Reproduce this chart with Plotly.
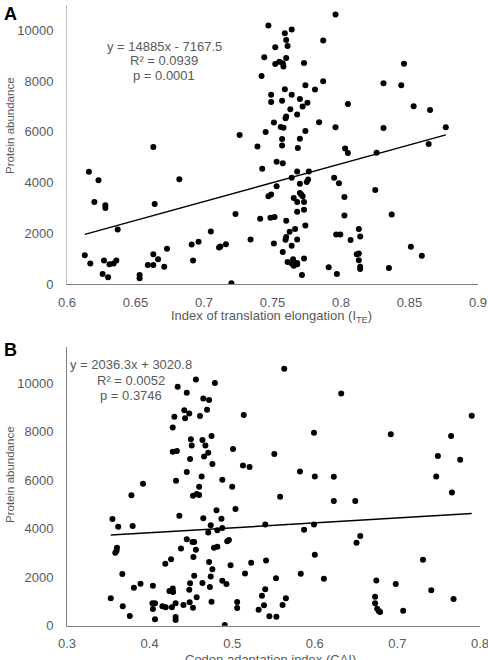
import plotly.graph_objects as go

# ---------------- Panel A data (I_TE vs protein abundance) ----------------
a_ite = [0.663, 0.726, 0.796, 0.747, 0.764, 0.759, 0.760, 0.787, 0.752, 0.761,
         0.744, 0.760, 0.755, 0.752, 0.7575, 0.758, 0.773, 0.846, 0.742, 0.831,
         0.844, 0.787, 0.774, 0.781, 0.759, 0.749, 0.764, 0.770, 0.749, 0.757,
         0.7755, 0.805, 0.763, 0.772, 0.853, 0.865, 0.768, 0.760, 0.7595, 0.751,
         0.784, 0.756, 0.758, 0.796, 0.831, 0.8765, 0.745, 0.774, 0.757, 0.770,
         0.739, 0.757, 0.7685, 0.864, 0.803, 0.805, 0.826, 0.616, 0.623, 0.620,
         0.628, 0.628, 0.664, 0.682, 0.637, 0.723, 0.613, 0.617, 0.627, 0.631,
         0.634, 0.636, 0.626, 0.630, 0.653, 0.653, 0.659, 0.663, 0.663, 0.6665,
         0.671, 0.673, 0.691, 0.696, 0.692, 0.705, 0.711, 0.712, 0.716, 0.720,
         0.734, 0.7425, 0.753, 0.7575, 0.768, 0.7765, 0.764, 0.776, 0.775, 0.770,
         0.753, 0.795, 0.7985, 0.747, 0.749, 0.770, 0.771, 0.772, 0.7655, 0.768,
         0.773, 0.8025, 0.825, 0.773, 0.768, 0.8025, 0.837, 0.741, 0.7485, 0.7515,
         0.760, 0.774, 0.7665, 0.7625, 0.813, 0.7965, 0.7995, 0.814, 0.760, 0.7595,
         0.768, 0.807, 0.751, 0.764, 0.851, 0.7575, 0.8115, 0.813, 0.859, 0.773,
         0.813, 0.761, 0.765, 0.764, 0.7655, 0.768, 0.768, 0.814, 0.814, 0.791,
         0.835, 0.7715, 0.797]
a_abund = [5400, 5870, 10625, 10190, 10030, 9890, 9620, 9600, 9330, 9385,
           8940, 8910, 8765, 8670, 8700, 8580, 8710, 8685, 8200, 7910,
           7840, 7990, 7840, 7670, 7680, 7460, 7460, 7290, 7180, 7220,
           7150, 7100, 6890, 7000, 7010, 6865, 6680, 6600, 6535, 6365,
           6375, 6190, 6165, 6180, 6150, 6180, 5990, 6030, 5715, 5730,
           5425, 5465, 5360, 5515, 5345, 5160, 5175, 4425, 4090, 3235,
           3100, 3000, 3155, 4130, 2150, 2760, 1135, 805, 925, 780,
           805, 925, 395, 265, 355, 225, 750, 750, 1175, 980,
           685, 1385, 1560, 1665, 925, 2070, 1440, 1480, 1570, 25,
           1750, 4540, 4820, 4765, 4435, 4435, 4185, 4120, 4025, 3950,
           3855, 4185, 3970, 3455, 3525, 3590, 3525, 3455, 3395, 3235,
           3235, 3435, 3710, 2930, 2850, 2705, 2745, 2575, 2615, 2640,
           2495, 2310, 2165, 2060, 2165, 1955, 1955, 1875, 1850, 1740,
           1755, 1730, 1600, 1505, 1465, 1265, 1175, 1200, 1110, 1005,
           940, 870, 980, 805, 715, 780, 830, 685, 595, 660,
           635, 355, 395]
a_slope, a_intercept = 14885, -7167.5
a_eq = ["y = 14885x - 7167.5", "R² = 0.0939", "p = 0.0001"]

# ---------------- Panel B data (CAI vs protein abundance) ----------------
b_cai = [0.456, 0.479, 0.434, 0.445, 0.465, 0.472, 0.442, 0.448, 0.4695, 0.430,
         0.443, 0.461, 0.514, 0.428, 0.450, 0.451, 0.464, 0.475, 0.4675, 0.501,
         0.428, 0.433, 0.449, 0.466, 0.471, 0.476, 0.513, 0.521, 0.445, 0.463,
         0.488, 0.392, 0.432, 0.460, 0.500, 0.378, 0.4525, 0.457, 0.460, 0.504,
         0.355, 0.436, 0.465, 0.481, 0.487, 0.362, 0.3795, 0.474, 0.471, 0.482,
         0.488, 0.445, 0.452, 0.454, 0.494, 0.496, 0.3605, 0.360, 0.3585, 0.438,
         0.456, 0.478, 0.482, 0.453, 0.426, 0.419, 0.472, 0.498, 0.476, 0.367,
         0.454, 0.474, 0.5155, 0.523, 0.488, 0.493, 0.389, 0.381, 0.404, 0.449,
         0.464, 0.473, 0.428, 0.424, 0.4285, 0.448, 0.353, 0.457, 0.3675, 0.4035,
         0.4065, 0.404, 0.4155, 0.4195, 0.427, 0.4315, 0.441, 0.4485, 0.4525, 0.475,
         0.506, 0.506, 0.376, 0.4065, 0.4315, 0.4315, 0.491, 0.563, 0.632, 0.790,
         0.599, 0.692, 0.765, 0.551, 0.749, 0.776, 0.582, 0.600, 0.623, 0.747,
         0.558, 0.623, 0.649, 0.766, 0.540, 0.599, 0.587, 0.655, 0.6505, 0.600,
         0.731, 0.541, 0.583, 0.553, 0.611, 0.6745, 0.698, 0.540, 0.741, 0.536,
         0.565, 0.673, 0.768, 0.673, 0.5385, 0.561, 0.532, 0.6755, 0.6775, 0.679,
         0.707, 0.545, 0.5535]
b_abund = [10160, 10010, 9855, 9610, 9380, 9310, 8895, 8760, 8910, 8620,
           8565, 8650, 8690, 8180, 7690, 7440, 7660, 7825, 7440, 7290,
           7175, 7205, 6875, 6985, 7135, 6670, 6615, 6545, 6340, 6160,
           6020, 5855, 5980, 5730, 5730, 5380, 5360, 5430, 5390, 4815,
           4400, 4535, 4430, 4760, 4415, 4085, 4110, 4140, 3850, 3935,
           4030, 3565, 3450, 3450, 3480, 3535, 3215, 3095, 3010, 3190,
           3135, 3215, 3260, 2835, 2740, 2555, 2625, 2490, 2325, 2130,
           2060, 2035, 2150, 2600, 1855, 1720, 1730, 1565, 1650, 1750,
           1760, 1595, 1540, 1430, 1390, 1485, 1130, 1170, 800, 925,
           925, 690, 800, 760, 760, 925, 855, 965, 740, 990,
           975, 730, 400, 265, 360, 235, 30, 10600, 9585, 8660,
           7960, 7895, 7825, 7080, 7000, 6845, 6365, 6160, 6145, 6160,
           5320, 5145, 5145, 5500, 4180, 4180, 3960, 3700, 3425, 2930,
           2720, 2695, 2145, 1955, 1940, 1870, 1720, 1500, 1460, 1235,
           1130, 1195, 1100, 925, 840, 855, 660, 700, 605, 565,
           620, 390, 370]
b_slope, b_intercept = 2036.3, 3020.8
b_eq = ["y = 2036.3x + 3020.8", "R² = 0.0052", "p = 0.3746"]

a_xticks = [0.6, 0.65, 0.7, 0.75, 0.8, 0.85, 0.9]
a_xticktext = ["0.6", "0.65", "0.7", "0.75", "0.8", "0.85", "0.9"]
b_xticks = [0.3, 0.4, 0.5, 0.6, 0.7, 0.8]
b_xticktext = ["0.3", "0.4", "0.5", "0.6", "0.7", "0.8"]
y_ticks = [0, 2000, 4000, 6000, 8000, 10000]

W, H = 488, 660
FONT = "Liberation Sans, Arial, sans-serif"
GRAY = "#595959"

def px(x):
    return x / W

def py(y):
    return 1 - y / H

fig = go.Figure()

fig.add_trace(go.Scatter(x=a_ite, y=a_abund, mode="markers", xaxis="x", yaxis="y",
                         marker=dict(size=6, color="black"), showlegend=False))
ax0, ax1 = min(a_ite), max(a_ite)
fig.add_trace(go.Scatter(x=[ax0, ax1], y=[a_slope * ax0 + a_intercept, a_slope * ax1 + a_intercept],
                         mode="lines", xaxis="x", yaxis="y",
                         line=dict(color="black", width=1.5), showlegend=False))

fig.add_trace(go.Scatter(x=b_cai, y=b_abund, mode="markers", xaxis="x2", yaxis="y2",
                         marker=dict(size=6, color="black"), showlegend=False))
bx0, bx1 = min(b_cai), max(b_cai)
fig.add_trace(go.Scatter(x=[bx0, bx1], y=[b_slope * bx0 + b_intercept, b_slope * bx1 + b_intercept],
                         mode="lines", xaxis="x2", yaxis="y2",
                         line=dict(color="black", width=1.5), showlegend=False))

tickfont = dict(family=FONT, size=13, color=GRAY)
common_x = dict(showgrid=False, zeroline=False, showline=True, linecolor="#7f7f7f", linewidth=1,
                ticks="", tickfont=tickfont, ticklabelstandoff=6, automargin=False,
                ticklabeloverflow="allow")
common_y = dict(showgrid=False, zeroline=False, showline=True, linewidth=1,
                ticks="", tickfont=tickfont, ticklabelstandoff=10, automargin=False,
                tickvals=y_ticks, ticktext=[str(v) for v in y_ticks])

fig.update_layout(
    width=W, height=H, autosize=False,
    margin=dict(l=0, r=0, t=0, b=0, pad=0),
    paper_bgcolor="white", plot_bgcolor="white",
    xaxis=dict(domain=[px(67), px(478)], range=[0.6, 0.9], anchor="y",
               tickvals=a_xticks, ticktext=a_xticktext, **common_x),
    yaxis=dict(domain=[py(284), py(5)], range=[0, 11000], anchor="x",
               linecolor="#bfbfbf", **common_y),
    xaxis2=dict(domain=[px(67), px(480)], range=[0.3, 0.8], anchor="y2",
                tickvals=b_xticks, ticktext=b_xticktext, **common_x),
    yaxis2=dict(domain=[py(625.7), py(347)], range=[0, 11500], anchor="x2",
                linecolor="#7f7f7f", **common_y),
)

def note(text, x, y, size=13, color=GRAY, angle=0):
    return dict(text=text, x=px(x), y=py(y), xref="paper", yref="paper",
                xanchor="center", yanchor="middle", showarrow=False, textangle=angle,
                font=dict(family=FONT, size=size, color=color))

ann = []
# panel letters
ann.append(note("<b>A</b>", 10, 14, size=18, color="black"))
ann.append(note("<b>B</b>", 10, 350, size=18, color="black"))
# equations
for t, yy in zip(a_eq, [46, 61, 76]):
    ann.append(note(t, 164, yy))
for t, yy in zip(b_eq, [364, 380, 395]):
    ann.append(note(t, 131, yy))
# axis titles
ann.append(note("Index of translation elongation (I<sub>TE</sub>)", 271, 317))
ann.append(note("Codon adaptation index (CAI)", 270, 659))
ann.append(note("Protein abundance", 10, 126, size=11.5, angle=-90))
ann.append(note("Protein abundance", 10, 475, size=11.5, angle=-90))
fig.update_layout(annotations=ann)

fig.write_html("out.html")
